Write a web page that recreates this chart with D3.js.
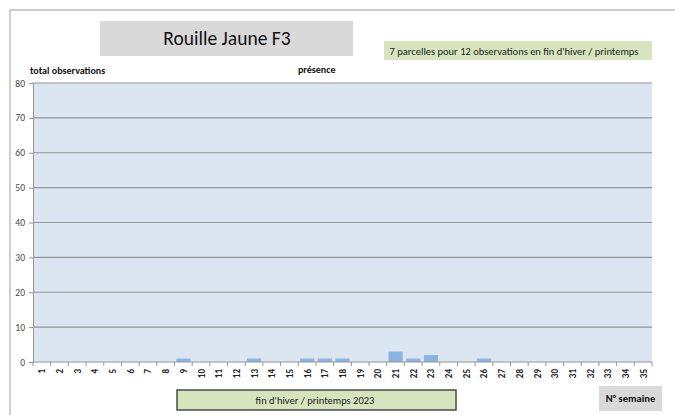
<!DOCTYPE html>
<html>
<head>
<meta charset="utf-8">
<title>Rouille Jaune F3</title>
<script src="https://cdn.jsdelivr.net/npm/d3@7"></script>
<style>
body, html { margin: 0; padding: 0; background: #fff; }
svg { display: block; font-family: Calibri, Carlito, "Liberation Sans", "Open Sans", sans-serif; }
</style>
</head>
<body>
<script>
// weeks 1..35, presence counts
var weeks = d3.range(1, 36).map(String);
var counts = [0,0,0,0,0,0,0,0,1,0,0,0,1,0,0,1,1,1,0,0,3,1,2,0,0,1,0,0,0,0,0,0,0,0,0];
var yTicks = [0,10,20,30,40,50,60,70,80];

var W = 675, H = 415;
var m = {top: 83, right: 23, bottom: 53, left: 33};

var svg = d3.select("body").append("svg")
  .attr("width", W).attr("height", H);

// outer frame (top + left edges only visible)
svg.append("line").attr("x1", 10).attr("x2", W).attr("y1", 10).attr("y2", 10)
  .attr("stroke", "#9a9a9a").attr("stroke-width", 1.2);
svg.append("line").attr("x1", 10).attr("x2", 10).attr("y1", 10).attr("y2", H)
  .attr("stroke", "#b0b0b0").attr("stroke-width", 1.2);

var x = d3.scaleBand().domain(weeks).range([m.left, W - m.right]).paddingInner(0.2).paddingOuter(0.1);
var y = d3.scaleLinear().domain([0, 80]).range([H - m.bottom, m.top]);

// plot background
svg.append("rect")
  .attr("x", m.left).attr("y", m.top)
  .attr("width", W - m.right - m.left).attr("height", H - m.bottom - m.top)
  .attr("fill", "#dce6f2");

// gridlines
svg.append("g").selectAll("line").data(yTicks.slice(1)).enter().append("line")
  .attr("x1", m.left).attr("x2", W - m.right)
  .attr("y1", function(d){ return y(d); }).attr("y2", function(d){ return y(d); })
  .attr("stroke", "#959595").attr("stroke-width", 1.2);

// bars
svg.append("g").selectAll("rect").data(counts).enter().append("rect")
  .attr("x", function(d, i){ return x(weeks[i]); })
  .attr("width", x.bandwidth())
  .attr("y", function(d){ return y(d); })
  .attr("height", function(d){ return y(0) - y(d); })
  .attr("fill", "#8db3e2");

// y axis
var yAxis = svg.append("g").attr("transform", "translate(" + m.left + ",0)")
  .call(d3.axisLeft(y).tickValues(yTicks).tickSize(4).tickPadding(4));
yAxis.select(".domain").attr("stroke", "#959595");
yAxis.selectAll(".tick line").attr("stroke", "#959595");
yAxis.selectAll(".tick text").attr("font-size", 9.5).attr("fill", "#444")
  .attr("font-family", "Calibri, Carlito, sans-serif");

// x axis: ticks between categories
var xAxis = svg.append("g").attr("transform", "translate(0," + y(0) + ")");
xAxis.append("line").attr("x1", m.left).attr("x2", W - m.right)
  .attr("stroke", "#959595").attr("stroke-width", 1.2);
xAxis.selectAll("line.tk").data(d3.range(0, weeks.length + 1)).enter().append("line")
  .attr("class", "tk")
  .attr("x1", function(i){ return m.left + i * (W - m.right - m.left) / weeks.length; })
  .attr("x2", function(i){ return m.left + i * (W - m.right - m.left) / weeks.length; })
  .attr("y1", 0).attr("y2", 4).attr("stroke", "#959595");
xAxis.selectAll("text").data(weeks).enter().append("text")
  .attr("transform", function(d){
    return "translate(" + (x(d) + x.bandwidth() / 2 + 3.5) + ",7) rotate(-90)";
  })
  .attr("text-anchor", "end")
  .attr("font-size", 9).attr("font-weight", "bold").attr("fill", "#222")
  .text(function(d){ return d; });

// title box
svg.append("rect").attr("x", 100).attr("y", 21).attr("width", 253).attr("height", 35).attr("fill", "#d9d9d9");
svg.append("text").attr("x", 227).attr("y", 44.5).attr("text-anchor", "middle")
  .attr("font-size", 19.5).attr("fill", "#111").text("Rouille Jaune F3");

// info box
svg.append("rect").attr("x", 384).attr("y", 41).attr("width", 268).attr("height", 19).attr("fill", "#d7e4bd");
svg.append("text").attr("x", 514).attr("y", 54.5).attr("text-anchor", "middle")
  .attr("font-size", 10.5).attr("fill", "#222").text("7 parcelles pour 12 observations en fin d'hiver / printemps");

// axis labels
svg.append("text").attr("x", 30).attr("y", 74).attr("font-size", 10).attr("font-weight", "bold")
  .attr("fill", "#111").text("total observations");
svg.append("text").attr("x", 298).attr("y", 73).attr("font-size", 10).attr("font-weight", "bold")
  .attr("fill", "#111").text("présence");

// bottom period box
svg.append("rect").attr("x", 177).attr("y", 390).attr("width", 279).attr("height", 20)
  .attr("fill", "#d7e4bd").attr("stroke", "#4a4a4a").attr("stroke-width", 1.5);
svg.append("text").attr("x", 315).attr("y", 404).attr("text-anchor", "middle")
  .attr("font-size", 10.5).attr("fill", "#222").text("fin d'hiver / printemps 2023");

// week label box
svg.append("rect").attr("x", 599).attr("y", 386).attr("width", 63).attr("height", 25).attr("fill", "#d9d9d9");
svg.append("text").attr("x", 630.5).attr("y", 402).attr("text-anchor", "middle")
  .attr("font-size", 10.5).attr("font-weight", "bold").attr("fill", "#111").text("N° semaine");
</script>
</body>
</html>
